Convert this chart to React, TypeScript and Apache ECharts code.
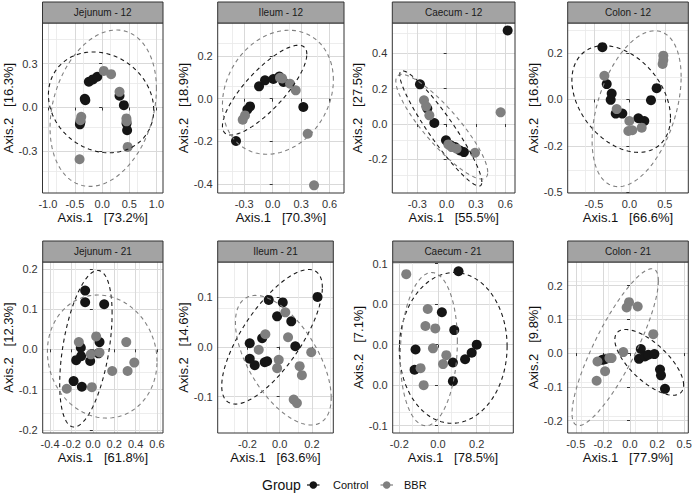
import React, { useEffect, useRef } from 'react';
import * as echarts from 'echarts';

// ---------- data ----------
const panelTitles = ['Jejunum - 12', 'Ileum - 12', 'Caecum - 12', 'Colon - 12', 'Jejunum - 21', 'Ileum - 21', 'Caecum - 21', 'Colon - 21'];
const xAxisTitles = ['Axis.1   [73.2%]', 'Axis.1   [70.3%]', 'Axis.1   [55.5%]', 'Axis.1   [66.6%]', 'Axis.1   [61.8%]', 'Axis.1   [63.6%]', 'Axis.1   [78.5%]', 'Axis.1   [77.9%]'];
const yAxisTitles = ['Axis.2   [16.3%]', 'Axis.2   [18.9%]', 'Axis.2   [27.5%]', 'Axis.2   [16.8%]', 'Axis.2   [12.3%]', 'Axis.2   [14.6%]', 'Axis.2   [7.1%]', 'Axis.2   [9.8%]'];
const groups = ['Control', 'BBR'];

const xRanges = [[-1.099, 1.121], [-0.58, 0.752], [-0.556, 0.699], [-0.869, 0.831], [-0.469, 0.656], [-0.385, 0.333], [-0.234, 0.389], [-0.575, 0.538]];
const yRanges = [[-0.585, 0.578], [-0.441, 0.354], [-0.389, 0.57], [-0.504, 0.412], [-0.208, 0.217], [-0.173, 0.17], [-0.109, 0.102], [-0.237, 0.27]];
const xSteps = [0.5, 0.3, 0.3, 0.5, 0.2, 0.2, 0.2, 0.25];
const ySteps = [0.3, 0.2, 0.2, 0.25, 0.1, 0.1, 0.05, 0.1];
const xTicks = [
  [-1.0, -0.5, 0, 0.5, 1.0], [-0.3, 0, 0.3, 0.6], [-0.3, 0, 0.3, 0.6], [-0.5, 0, 0.5],
  [-0.4, -0.2, 0, 0.2, 0.4, 0.6], [-0.2, 0, 0.2], [-0.2, 0, 0.2], [-0.5, -0.25, 0, 0.25, 0.5],
];
const xTickLabels = [
  ['-1.0', '-0.5', '0.0', '0.5', '1.0'], ['-0.3', '0.0', '0.3', '0.6'], ['-0.3', '0.0', '0.3', '0.6'], ['-0.5', '0.0', '0.5'],
  ['-0.4', '-0.2', '0.0', '0.2', '0.4', '0.6'], ['-0.2', '0.0', '0.2'], ['-0.2', '0.0', '0.2'], ['-0.5', '-0.2', '0.0', '0.2', '0.5'],
];
const yTicks = [
  [-0.3, 0, 0.3], [-0.4, -0.2, 0, 0.2], [-0.2, 0, 0.2, 0.4], [-0.5, -0.25, 0, 0.25],
  [-0.2, -0.1, 0, 0.1, 0.2], [-0.1, 0, 0.1], [-0.1, -0.05, 0, 0.05, 0.1], [-0.2, -0.1, 0, 0.1, 0.2],
];
const yTickLabels = [
  ['-0.3', '0.0', '0.3'], ['-0.4', '-0.2', '0.0', '0.2'], ['-0.2', '0.0', '0.2', '0.4'], ['-0.5', '-0.2', '0.0', '0.2'],
  ['-0.2', '-0.1', '0.0', '0.1', '0.2'], ['-0.1', '0.0', '0.1'], ['-0.1', '0.0', '0.0', '0.0', '0.1'], ['-0.2', '-0.1', '0.0', '0.1', '0.2'],
];

const jejunum12Control = [[-0.245, 0.176], [-0.17, 0.192], [-0.09, 0.21], [-0.32, 0.06], [-0.31, 0.05], [-0.4, -0.1], [-0.41, -0.115], [0.32, 0.08], [0.4, 0.016], [0.45, -0.11], [0.46, -0.155]];
const jejunum12BBR = [[0.03, 0.25], [0.165, 0.228], [0.32, 0.107], [-0.385, -0.064], [-0.4, -0.087], [0.447, -0.075], [0.45, -0.095], [0.47, -0.27], [-0.416, -0.354]];
const ileum12Control = [[-0.387, -0.198], [-0.239, -0.036], [-0.267, -0.051], [-0.144, 0.058], [-0.081, 0.086], [0.007, 0.092], [0.07, 0.104], [0.113, 0.078], [0.323, -0.039]];
const ileum12BBR = [[-0.316, -0.098], [-0.292, -0.078], [0.077, 0.098], [0.1, 0.095], [0.183, 0.07], [0.243, 0.039], [0.369, -0.164], [0.436, -0.405]];
const caecum12Control = [[0.624, 0.528], [-0.273, 0.224], [-0.198, 0.087], [-0.126, 0.006], [-0.007, -0.092], [0.041, -0.12], [0.085, -0.13], [0.136, -0.149], [0.177, -0.158]];
const caecum12BBR = [[-0.232, 0.134], [-0.21, 0.1], [-0.177, 0.049], [0.017, -0.115], [0.051, -0.13], [0.102, -0.139], [0.29, -0.162], [0.552, 0.066]];
const colon12Control = [[-0.38, 0.282], [-0.319, 0.083], [-0.249, 0.032], [-0.263, -0.002], [-0.192, -0.076], [-0.099, -0.076], [0.127, -0.101], [0.211, -0.116], [0.305, -0.004], [0.385, 0.061]];
const colon12BBR = [[-0.352, 0.128], [-0.178, -0.052], [0.0, -0.116], [-0.014, -0.17], [0.042, -0.166], [0.174, -0.152], [0.479, 0.236], [0.479, 0.213], [0.469, 0.191]];
const jejunum21Control = [[-0.072, 0.146], [-0.072, 0.117], [0.106, 0.112], [0.0625, 0.018], [-0.1125, 0.004], [-0.11, -0.017], [-0.156, -0.027], [-0.025, -0.029], [0.053, -0.01], [-0.18, -0.079], [-0.103, -0.093]];
const jejunum21BBR = [[-0.131, 0.018], [0.031, 0.032], [-0.019, -0.0125], [0.0625, -0.008], [0.3125, 0.018], [0.3875, -0.033], [0.181, -0.054], [0.325, -0.054], [-0.244, -0.098], [-0.009, -0.094]];
const ileum21Control = [[-0.068, 0.094], [0.019, 0.089], [-0.016, 0.061], [0.072, 0.051], [0.097, 0.001], [0.235, 0.1], [-0.186, 0.007], [-0.109, 0.017], [-0.186, -0.024], [-0.155, -0.037], [-0.093, -0.031], [-0.078, -0.029]];
const ileum21BBR = [[0.035, 0.069], [-0.089, 0.025], [-0.13, -0.006], [0.052, 0.019], [-0.006, -0.026], [-0.016, -0.043], [0.124, -0.039], [0.138, -0.057], [0.196, -0.011], [0.087, -0.106], [0.107, -0.113]];
const caecum21Control = [[0.106, 0.0906], [0.02, 0.04], [0.084, 0.018], [0.2, 0.0], [0.174, -0.01], [0.14, -0.018], [-0.116, -0.006], [-0.121, -0.031], [0.077, -0.022], [0.077, -0.045]];
const caecum21BBR = [[-0.164, 0.087], [-0.053, 0.044], [-0.065, 0.023], [-0.014, 0.02], [-0.026, -0.0045], [0.043, -0.013], [0.026, -0.024], [-0.09, -0.029], [-0.074, -0.05]];
const colon21Control = [[0.1, 0.012], [0.083, -0.017], [0.138, -0.01], [0.169, -0.005], [0.225, -0.003], [0.277, -0.049], [0.286, -0.066], [0.323, -0.106], [-0.255, -0.02], [-0.23, -0.018]];
const colon21BBR = [[-0.009, 0.151], [-0.031, 0.135], [0.071, 0.138], [0.215, 0.056], [-0.062, 0.003], [-0.19, -0.015], [-0.17, -0.015], [-0.3, -0.025], [-0.23, -0.054], [-0.308, -0.082]];

// ellipse bounds in data units: [xmin, xmax, ymin, ymax, tilt]
const controlEllipses = [
  [-0.99, 0.95, -0.31, 0.38, -0.15], [-0.53, 0.36, -0.17, 0.25, 0.8], [-0.48, 0.36, -0.35, 0.3, -0.93], [-0.81, 0.58, -0.285, 0.29, -0.35],
  [-0.31, 0.18, -0.193, 0.196, 0.45], [-0.36, 0.265, -0.115, 0.155, 0.73], [-0.2, 0.357, -0.097, 0.089, 0.02], [-0.14, 0.495, -0.125, 0.07, -0.69],
];
const bbrEllipses = [
  [-0.96, 1.0, -0.54, 0.53, 0.25], [-0.53, 0.64, -0.26, 0.32, 0.2], [-0.52, 0.42, -0.31, 0.28, -0.87], [-0.525, 0.73, -0.47, 0.37, 0.41],
  [-0.425, 0.6, -0.171, 0.135, -0.08], [-0.275, 0.32, -0.157, 0.103, -0.58], [-0.195, 0.1, -0.1, 0.089, 0.1], [-0.535, 0.262, -0.215, 0.25, 0.845],
];

const controlPoints = [jejunum12Control, ileum12Control, caecum12Control, colon12Control, jejunum21Control, ileum21Control, caecum21Control, colon21Control];
const bbrPoints = [jejunum12BBR, ileum12BBR, caecum12BBR, colon12BBR, jejunum21BBR, ileum21BBR, caecum21BBR, colon21BBR];

// ---------- layout ----------
const gridBoxes = [
  { left: 42.5, top: 23, width: 120.5, height: 170 },
  { left: 217.7, top: 23, width: 126.3, height: 170 },
  { left: 392.3, top: 23, width: 122.7, height: 170 },
  { left: 567.7, top: 23, width: 120.6, height: 170 },
  { left: 42.7, top: 262, width: 120.3, height: 171 },
  { left: 217.7, top: 262, width: 115.6, height: 171 },
  { left: 392.7, top: 262, width: 120.6, height: 171 },
  { left: 567.7, top: 262, width: 120.6, height: 171 },
];
const STRIP_H = 21;
const FONT = 'Liberation Sans, Arial, Helvetica, sans-serif';
const CONTROL_COLOR = '#151515';
const BBR_COLOR = '#7f7f7f';

function makeFormatter(ticks: number[], labels: string[], step: number) {
  return (v: number) => {
    for (let i = 0; i < ticks.length; i++) {
      if (Math.abs(ticks[i] - v) < step * 0.01) return labels[i];
    }
    return '';
  };
}

function ellipseRender(color: string) {
  return (params: any, api: any) => {
    const xmin = api.value(0), xmax = api.value(1), ymin = api.value(2), ymax = api.value(3), tilt = api.value(4);
    const cx = (xmin + xmax) / 2, cy = (ymin + ymax) / 2, rx = (xmax - xmin) / 2, ry = (ymax - ymin) / 2;
    const phi = Math.asin(tilt);
    const pts: number[][] = [];
    const n = 140;
    for (let k = 0; k < n; k++) {
      const t = (k / n) * Math.PI * 2;
      pts.push(api.coord([cx + rx * Math.cos(t), cy + ry * Math.sin(t + phi)]));
    }
    return {
      type: 'polygon',
      shape: { points: pts },
      style: { fill: 'none', stroke: color, lineWidth: 1.1, lineDash: [4, 3.5] },
      silent: true,
    };
  };
}

export default function App() {
  const ref = useRef<HTMLDivElement>(null);
  useEffect(() => {
    if (!ref.current) return;
    const chart = echarts.init(ref.current, undefined, { renderer: 'svg' });

    const grids = gridBoxes.map((g) => ({ ...g, show: false, containLabel: false }));
    const xAxes = gridBoxes.map((_, i) => ({
      type: 'value',
      gridIndex: i,
      min: xRanges[i][0],
      max: xRanges[i][1],
      interval: xSteps[i],
      axisLine: { show: false },
      axisTick: { show: true, length: 3, lineStyle: { color: '#333', width: 1 }, customValues: xTicks[i] },
      axisLabel: { customValues: xTicks[i], formatter: makeFormatter(xTicks[i], xTickLabels[i], xSteps[i]), fontSize: 11, color: '#333', margin: 5, fontFamily: FONT, hideOverlap: false },
      splitLine: { show: true, lineStyle: { color: '#d9d9d9', width: 1 } },
      minorTick: { show: false, splitNumber: 2 },
      minorSplitLine: { show: true, lineStyle: { color: '#e9e9e9', width: 0.8 } },
      name: xAxisTitles[i],
      nameLocation: 'middle',
      nameGap: 18,
      nameMoveOverlap: false,
      nameTextStyle: { fontSize: 13, color: '#111', fontFamily: FONT },
    }));
    const yAxes = gridBoxes.map((_, i) => ({
      type: 'value',
      gridIndex: i,
      min: yRanges[i][0],
      max: yRanges[i][1],
      interval: ySteps[i],
      axisLine: { show: false },
      axisTick: { show: true, length: 3, lineStyle: { color: '#333', width: 1 }, customValues: yTicks[i] },
      axisLabel: { customValues: yTicks[i], formatter: makeFormatter(yTicks[i], yTickLabels[i], ySteps[i]), fontSize: 11, color: '#333', margin: 5, fontFamily: FONT, hideOverlap: false },
      splitLine: { show: true, lineStyle: { color: '#d9d9d9', width: 1 } },
      minorTick: { show: false, splitNumber: 2 },
      minorSplitLine: { show: true, lineStyle: { color: '#e9e9e9', width: 0.8 } },
      name: yAxisTitles[i],
      nameLocation: 'middle',
      nameRotate: 90,
      nameGap: 28,
      nameMoveOverlap: false,
      nameTextStyle: { fontSize: 13, color: '#111', fontFamily: FONT },
    }));

    const series: any[] = [];
    gridBoxes.forEach((_, i) => {
      series.push({
        type: 'scatter', name: groups[0], xAxisIndex: i, yAxisIndex: i, data: controlPoints[i],
        symbolSize: 10, itemStyle: { color: CONTROL_COLOR, opacity: 1 }, z: 3,
      });
      series.push({
        type: 'scatter', name: groups[1], xAxisIndex: i, yAxisIndex: i, data: bbrPoints[i],
        symbolSize: 10, itemStyle: { color: BBR_COLOR, opacity: 1 }, z: 3,
      });
      series.push({
        type: 'custom', name: groups[0] + ' ellipse', xAxisIndex: i, yAxisIndex: i, data: [controlEllipses[i]],
        renderItem: ellipseRender('#1a1a1a'), z: 4, silent: true,
      });
      series.push({
        type: 'custom', name: groups[1] + ' ellipse', xAxisIndex: i, yAxisIndex: i, data: [bbrEllipses[i]],
        renderItem: ellipseRender('#808080'), z: 4, silent: true,
      });
    });

    const graphics: any[] = [];
    gridBoxes.forEach((g, i) => {
      graphics.push({
        type: 'rect', z: 100,
        shape: { x: g.left, y: g.top, width: g.width, height: g.height },
        style: { fill: 'none', stroke: '#333', lineWidth: 1 },
        silent: true,
      });
      graphics.push({
        type: 'rect', z: 100,
        shape: { x: g.left, y: g.top - STRIP_H, width: g.width, height: STRIP_H },
        style: { fill: '#a3a3a3', stroke: '#333', lineWidth: 1 },
        silent: true,
      });
      graphics.push({
        type: 'text', z: 101,
        x: g.left + g.width / 2, y: g.top - STRIP_H / 2,
        style: { text: panelTitles[i], fill: '#1a1a1a', fontSize: 10, fontFamily: FONT, align: 'center', verticalAlign: 'middle' },
        silent: true,
      });
    });
    // legend
    const ly = 485;
    graphics.push({ type: 'text', z: 101, x: 262, y: ly, style: { text: 'Group', fill: '#111', fontSize: 14, fontFamily: FONT, align: 'left', verticalAlign: 'middle' } });
    graphics.push({ type: 'line', z: 101, shape: { x1: 307, y1: ly, x2: 319.5, y2: ly }, style: { stroke: CONTROL_COLOR, lineWidth: 1.2 } });
    graphics.push({ type: 'circle', z: 102, shape: { cx: 313.3, cy: ly, r: 3.8 }, style: { fill: CONTROL_COLOR } });
    graphics.push({ type: 'text', z: 101, x: 333, y: ly, style: { text: groups[0], fill: '#111', fontSize: 11, fontFamily: FONT, align: 'left', verticalAlign: 'middle' } });
    graphics.push({ type: 'line', z: 101, shape: { x1: 380.5, y1: ly, x2: 393, y2: ly }, style: { stroke: BBR_COLOR, lineWidth: 1.2 } });
    graphics.push({ type: 'circle', z: 102, shape: { cx: 386.7, cy: ly, r: 3.8 }, style: { fill: BBR_COLOR } });
    graphics.push({ type: 'text', z: 101, x: 404, y: ly, style: { text: groups[1], fill: '#111', fontSize: 11, fontFamily: FONT, align: 'left', verticalAlign: 'middle' } });

    chart.setOption({
      animation: false,
      backgroundColor: '#ffffff',
      textStyle: { fontFamily: FONT },
      grid: grids,
      xAxis: xAxes,
      yAxis: yAxes,
      series,
      graphic: graphics,
    });
    return () => chart.dispose();
  }, []);
  return <div ref={ref} style={{ position: 'absolute', left: 0, top: 0, width: 696, height: 494 }} />;
}
